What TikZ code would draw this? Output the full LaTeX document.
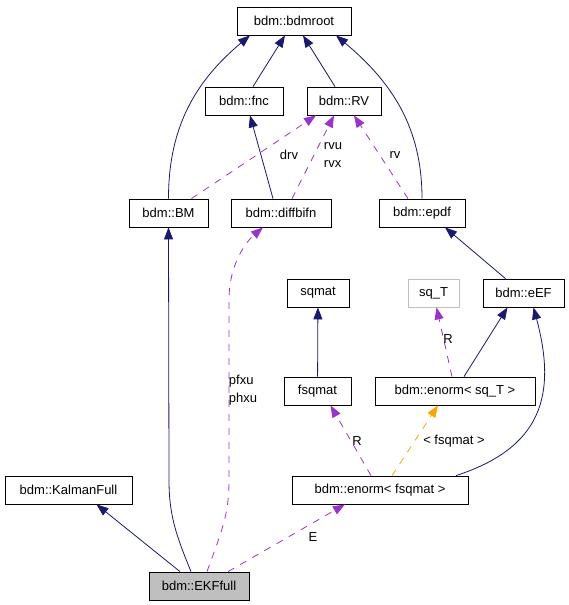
\documentclass[tikz,border=0pt]{standalone}
\usepackage{fontspec}
\setmainfont{Liberation Sans}
\usetikzlibrary{arrows.meta}

\definecolor{navy}{RGB}{25,25,112}
\definecolor{orchid}{RGB}{154,50,205}
\definecolor{gold}{RGB}{255,165,0}
\definecolor{grey}{RGB}{191,191,191}

\begin{document}
\begin{tikzpicture}[
                x=1pt,y=-1pt,
                line width=.8pt,
                box/.style={draw,text=black,minimum height=28pt,inner sep=0pt,font=\fontsize{13}{18}\selectfont},
                lbl/.style={align=left,inner sep=0pt,text=black,font=\fontsize{13}{18}\selectfont},
                inh/.style={navy,-{Triangle[length=12pt,width=9pt]}},
                use/.style={orchid,dash pattern=on 7pt off 7pt,-{Triangle[length=12pt,width=9pt]}},
                tmpl/.style={gold,dash pattern=on 7pt off 7pt,-{Triangle[length=12pt,width=9pt]}}] %

\useasboundingbox (0,0) rectangle (568,605);

% classes


                    % 1
                    \node[box,minimum width=114pt] (ROOT) at (294,21) {bdm::bdmroot};
                    \node[box,minimum width=78pt] (FNC) at (244,101) {bdm::fnc};
                    \node[box,minimum width=74pt] (RV) at (344,101) {bdm::RV};

                    % 2
                    \node[box,minimum width=79pt] (BM) at (168.5,213) {bdm::BM};
                    \node[box,minimum width=100pt] (DIFF) at (281,213) {bdm::diffbifn};
                    \node[box,minimum width=86pt] (EPDF) at (422,213) {bdm::epdf};

                    % 3
                    \node[box,minimum width=62pt] (SQMAT) at (318,293) {sqmat};
                    \node[box,minimum width=51pt,draw=grey] (SQT) at (433.5,293) {sq\_T};
                    \node[box,minimum width=81pt] (EEF) at (523.5,293) {bdm::eEF};

                    % 4
                    \node[box,minimum width=67pt] (FSQ) at (317.5,391) {fsqmat};
                    \node[box,minimum width=160pt] (ENSQT) at (455,391) {bdm::enorm< sq\_T >};

                    % 5
                    \node[box,minimum width=127pt] (KALMAN) at (68.5,490) {bdm::KalmanFull};
                    \node[box,minimum width=176pt] (ENFSQ) at (380,490) {bdm::enorm< fsqmat >};

                    % 6
                    \node[box,minimum width=100pt,fill=grey] (EKF) at (199,586) {bdm::EKFfull};


% inheritance

                    \path [inh] (BM.north) edge[out=90,in=-140] ([xshift=-44pt]ROOT.south);
                    \path [inh] (FNC) edge (ROOT);
                    \path [inh] (RV) edge (ROOT);
                    \path [inh] (EPDF.north) edge[out=90,in=-40] ([xshift=42pt]ROOT.south);
                    \path [inh] ([xshift=-8pt]DIFF.north) edge ([xshift=6pt]FNC.south);
                    \path [inh] ([xshift=-18pt]EEF.north) edge ([xshift=23pt]EPDF.south);
                    \path [inh] (FSQ) edge (SQMAT);
                    \path [inh] ([xshift=9pt]ENSQT.north) edge ([xshift=-16pt]EEF.south);
                    \path [inh] ([xshift=76pt]ENFSQ.north) edge[out=18,in=-75,looseness=1.25] ([xshift=10pt]EEF.south);
                    \path [inh] ([xshift=-19pt]EKF.north) edge ([xshift=28pt]KALMAN.south);
                    \draw [inh] ([xshift=-8pt]EKF.north) .. controls (176,535) and (169,515) .. (169,480) -- (BM.south);

% usage

                    \path [use] ([xshift=23pt]BM.north) edge ([xshift=-28pt]RV.south);
                    \path [use] ([xshift=11pt]DIFF.north) edge ([xshift=-10pt]RV.south);
                    \path [use] ([xshift=-14pt]EPDF.north) edge ([xshift=10pt]RV.south);
                    \path [use] ([xshift=-3pt]ENSQT.north) edge ([xshift=3pt]SQT.south);
                    \path [use] ([xshift=-9pt]ENFSQ.north) edge ([xshift=13pt]FSQ.south);
                    \path [tmpl] ([xshift=12pt]ENFSQ.north) edge ([xshift=-17pt]ENSQT.south);
                    \draw [use] ([xshift=8pt]EKF.north) .. controls (222,530) and (229,515) .. (229,480) -- (229,300) .. controls (229,262) and (248,240) .. ([xshift=-18pt]DIFF.south);
                    \path [use] ([xshift=29pt]EKF.north) edge ([xshift=-35pt]ENFSQ.south);

% labels

                    \node[lbl] (drv) at (289,155) {drv};
                    \node[lbl] (rvux) at (333,155) {rvu\\rvx};
                    \node[lbl] (rv) at (395,155) {rv};
                    \node[lbl] (pfxu) at (243,390) {pfxu\\phxu};
                    \node[lbl] (RS) at (448,339) {R};
                    \node[lbl] (RF) at (357,441) {R};
                    \node[lbl] (TPL) at (454,441) {< fsqmat >};
                    \node[lbl] (E) at (313,537) {E};


%%%%%%%%%%%%%%%%%%%%%%%%%%%%%%%%%%%%%%%%%%%%%%%%%%%%%%%%%%%%%%%%%%%%%%%%%%%%%%%%%%%%


\end{tikzpicture}
\end{document}
